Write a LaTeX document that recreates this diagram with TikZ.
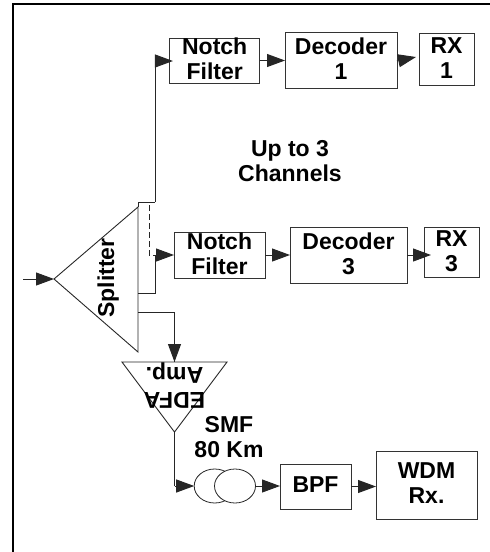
\documentclass[tikz,border=0pt]{standalone}
\usepackage{fontspec}
\setmainfont{Liberation Sans}
\usetikzlibrary{arrows.meta,shapes.geometric}
\newcommand\tx[2][0pt]{\raisebox{#1}[0pt][0pt]{\begin{tabular}[b]{@{}c@{}}#2\end{tabular}}}
\tikzset{
  x=1pt,y=-1pt,
  every node/.style={inner sep=0pt,outer sep=0pt,font=\fontsize{23}{25}\selectfont\bfseries},
  blockbox/.style={draw=black!80,line width=1pt,minimum width=#1},
  lensring/.style={draw=black!85,line width=.8pt,ellipse,minimum width=41pt,minimum height=34pt,fill=white},
  line/.style={draw=black!85,line width=1pt},
  flow/.style={line,-{Triangle[length=18pt,width=13pt]}},
  shape outline/.style={draw=black!85,line width=.9pt,line join=miter},
}
\begin{document}
\begin{tikzpicture}
\useasboundingbox (0,0) rectangle (490,552);
\draw[line width=1.2pt,black] (13,552) -- (13,4) -- (490,4);

% row 1
\node[blockbox=90.5pt,minimum height=45pt] (nf1) at (214.7,60.5) {\tx[-18.5pt]{Notch\\Filter}};
\node[blockbox=112pt,minimum height=56pt] (dec1) at (341,60) {\tx[-19pt]{Decoder\\1}};
\node[blockbox=55pt,minimum height=52pt] (rx1) at (446.5,59) {\tx[-19pt]{RX\\1}};
% row 3
\node[blockbox=91pt,minimum height=46pt] (nf3) at (219.5,255) {\tx[-19pt]{Notch\\Filter}};
\node[blockbox=117pt,minimum height=56pt] (dec3) at (348.5,255) {\tx[-19pt]{Decoder\\3}};
\node[blockbox=55pt,minimum height=50pt] (rx3) at (451.5,252) {\tx[-19pt]{RX\\3}};
% bottom row
\node[blockbox=71pt,minimum height=45pt] (bpf) at (315.5,486.5) {\tx[-5.5pt]{BPF}};
\node[blockbox=101pt,minimum height=68pt] (wdm) at (426.5,485) {\tx[-18pt]{WDM\\Rx.}};
\node[lensring] (fa) at (214.7,486) {};
\node[lensring] (fb) at (235,486) {};

% free texts
\node (up) at (290,181) {\tx{Up to 3\\Channels}};
\node (smf) at (229,457) {\tx{SMF\\80 Km}};

% splitter
\coordinate (sa) at (54,279);
\coordinate (st) at (138,207);
\coordinate (sb) at (138,352);
\coordinate (so1) at (138,202);
\coordinate (so2) at (138,293);
\coordinate (so3) at (138,312);
\coordinate (in) at (23,279);
\draw[shape outline] (sa) -- (st) -- (sb) -- cycle;
\node[rotate=90] (splitlbl) at (114,278) {\tx{Splitter}};

% EDFA
\coordinate (ea) at (122,362);
\coordinate (eb) at (227,362);
\coordinate (ec) at (174.5,432);
\coordinate (et) at (174.5,362);
\draw[shape outline] (ea) -- (eb) -- (ec) -- cycle;
\node[rotate=180] (edfalbl) at (174.5,367) {\tx{EDFA\\Amp.}};

% connectors
\coordinate (j1) at (155,202);
\coordinate (j2) at (155,293);
\coordinate (j3) at (155,255);
\coordinate (dt) at (149,205);
\coordinate (dm) at (149,255);
\draw[line] (st) -- (so1) -- (j1);
\draw[flow] (j1) |- ([xshift=3.5pt,yshift=-.5pt]nf1.west);
\draw[line] (so2) -- (j2) -- (j3);
\draw[flow] (j3) -- (nf3.west);
\draw[line,dash pattern=on 6pt off 3pt,line width=.8pt] (dt) -- (dm) -- (j3);
\draw[line] (so3) -| (et);
\draw[flow] (in) -- (sa);
\draw[flow] (nf1.east) -- (dec1.west |- nf1.east);
\draw[flow] (dec1.east) ++(0,1) -- ([xshift=-3pt,yshift=2pt]rx1.west);
\draw[flow] (nf3.east) -- (dec3.west);
\draw[flow] (dec3.east) -- ([xshift=7pt]rx3.west |- dec3.east);
\draw[line] (ec) -- (ec |- fa.west);
\draw[flow] (ec |- fa.west) -- (fa.west);
\draw[flow] (fb.east) -- (bpf.west |- fb.east);
\draw[flow] (bpf.east) -- (wdm.west |- bpf.east);
\draw[flow] (174.5,340) -- (et);
\end{tikzpicture}
\end{document}
